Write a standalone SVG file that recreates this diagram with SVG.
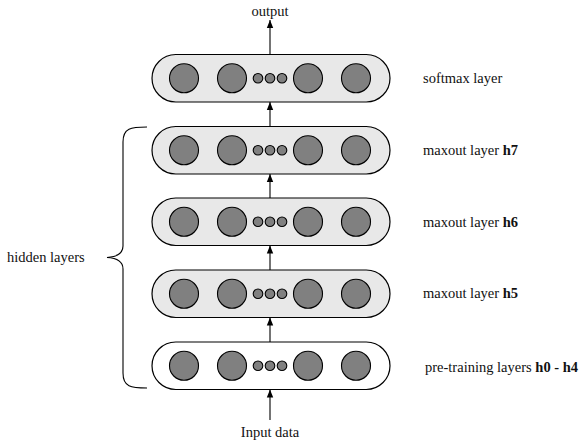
<svg xmlns="http://www.w3.org/2000/svg" width="580" height="442" viewBox="0 0 580 442">
<defs>
<marker id="ah" viewBox="0 0 8 8" refX="8" refY="4" markerWidth="8" markerHeight="8" markerUnits="userSpaceOnUse" orient="auto">
<path d="M0,0.8 L8,4 L0,7.2 Z" fill="#000"/>
</marker>
<g id="units">
<circle cx="184" cy="0" r="14.5" class="big"/>
<circle cx="232" cy="0" r="14.5" class="big"/>
<circle cx="258" cy="0" r="4.8" class="small"/>
<circle cx="270" cy="0" r="4.8" class="small"/>
<circle cx="282" cy="0" r="4.8" class="small"/>
<circle cx="308" cy="0" r="14.5" class="big"/>
<circle cx="356" cy="0" r="14.5" class="big"/>
</g>
</defs>
<style>
.pill{fill:#e8e8e8;stroke:#000;stroke-width:1.2}
.pill.white{fill:#fff}
.big,.small{fill:#808080;stroke:#000;stroke-width:1.1}
.t{font-family:'Liberation Serif','DejaVu Serif',serif;font-size:14.5px;fill:#111}
.b{font-weight:bold}
.conn line{stroke:#000;stroke-width:1.1;marker-end:url(#ah)}
</style>
<rect width="580" height="442" fill="#fff"/>
<g id="softmax">
<rect class="pill" x="152" y="54.5" width="238" height="47.5" rx="23.75"/>
<use href="#units" y="78.25"/>
<text class="t" font-family="Liberation Serif, serif" x="423" y="83">softmax layer</text>
</g>
<g id="h7">
<rect class="pill" x="152" y="126.5" width="238" height="47.5" rx="23.75"/>
<use href="#units" y="150.25"/>
<text class="t" font-family="Liberation Serif, serif" x="423" y="155">maxout layer <tspan class="b">h7</tspan></text>
</g>
<g id="h6">
<rect class="pill" x="152" y="198" width="238" height="47.5" rx="23.75"/>
<use href="#units" y="221.75"/>
<text class="t" font-family="Liberation Serif, serif" x="423" y="227">maxout layer <tspan class="b">h6</tspan></text>
</g>
<g id="h5">
<rect class="pill" x="152" y="270" width="238" height="47.5" rx="23.75"/>
<use href="#units" y="293.75"/>
<text class="t" font-family="Liberation Serif, serif" x="423" y="298">maxout layer <tspan class="b">h5</tspan></text>
</g>
<g id="pretrain">
<rect class="pill white" x="152" y="342" width="238" height="47.5" rx="23.75"/>
<use href="#units" y="365.75"/>
<text class="t" font-family="Liberation Serif, serif" x="425" y="372">pre-training layers <tspan class="b">h0 - h4</tspan></text>
</g>
<g id="output-label"><text class="t" font-family="Liberation Serif, serif" x="270" y="16" text-anchor="middle">output</text></g>
<g id="input-label"><text class="t" font-family="Liberation Serif, serif" x="270" y="437" text-anchor="middle">Input data</text></g>
<g id="hidden">
<path d="M147,127 C131,127 123,128 123,142 L123,246 C123,254 116,257 107,257.5 C116,258 123,261 123,269 L123,373 C123,387 131,388 147,388" fill="none" stroke="#000" stroke-width="1.1"/>
<text class="t" font-family="Liberation Serif, serif" x="7" y="262">hidden layers</text>
</g>
<g class="conn">
<line x1="270" y1="54.5" x2="270" y2="20"/>
<line x1="270" y1="126.5" x2="270" y2="102"/>
<line x1="270" y1="198" x2="270" y2="174"/>
<line x1="270" y1="270" x2="270" y2="245.5"/>
<line x1="270" y1="342" x2="270" y2="317.5"/>
<line x1="270" y1="420" x2="270" y2="389.5"/>
</g>
</svg>
